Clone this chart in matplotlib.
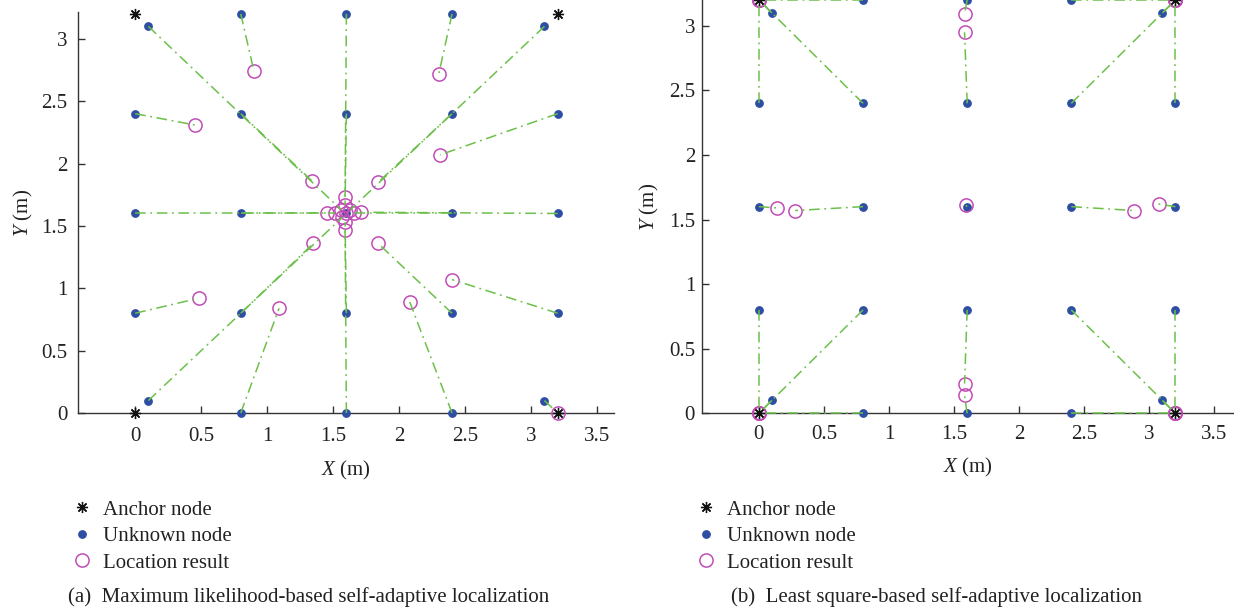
import numpy as np
import matplotlib
matplotlib.use("Agg")
import matplotlib.pyplot as plt

plt.rcParams["font.family"] = ["Liberation Serif", "DejaVu Serif"]
plt.rcParams["mathtext.fontset"] = "custom"
plt.rcParams["mathtext.rm"] = "Liberation Serif"
plt.rcParams["mathtext.it"] = "Liberation Serif:italic"

# anchor nodes (corners of the area)
anchor_x = [0.0, 0.0, 3.2, 3.2]
anchor_y = [0.0, 3.2, 3.2, 0.0]

# unknown nodes (true positions)
unknown_x = [0.8, 1.6, 2.4, 0.1, 3.1,
             0.0, 0.8, 1.6, 2.4, 3.2,
             0.0, 0.8, 1.6, 2.4, 3.2,
             0.0, 0.8, 1.6, 2.4, 3.2,
             0.1, 0.8, 1.6, 2.4, 3.1]
unknown_y = [3.2, 3.2, 3.2, 3.1, 3.1,
             2.4, 2.4, 2.4, 2.4, 2.4,
             1.6, 1.6, 1.6, 1.6, 1.6,
             0.8, 0.8, 0.8, 0.8, 0.8,
             0.1, 0.0, 0.0, 0.0, 0.1]

# (a) maximum likelihood-based location results
ml_result_x = [0.90, 1.59, 2.30, 1.56, 1.63,
               0.45, 1.34, 1.59, 1.84, 2.31,
               1.45, 1.51, 1.60, 1.66, 1.71,
               0.48, 1.35, 1.59, 1.84, 2.40,
               1.57, 1.09, 1.59, 2.08, 3.20]
ml_result_y = [2.74, 1.73, 2.72, 1.63, 1.63,
               2.31, 1.86, 1.67, 1.85, 2.07,
               1.60, 1.60, 1.60, 1.60, 1.61,
               0.92, 1.36, 1.53, 1.36, 1.07,
               1.57, 0.84, 1.47, 0.89, 0.00]

# (b) least square-based location results
ls_result_x = [0.00, 1.58, 3.20, 0.00, 3.20,
               0.00, 0.00, 1.58, 3.20, 3.20,
               0.14, 0.28, 1.59, 2.88, 3.07,
               0.00, 0.00, 1.58, 3.20, 3.20,
               0.00, 0.00, 1.58, 3.20, 3.20]
ls_result_y = [3.20, 3.09, 3.20, 3.20, 3.20,
               3.20, 3.20, 2.95, 3.20, 3.20,
               1.59, 1.57, 1.61, 1.57, 1.62,
               0.00, 0.00, 0.23, 0.00, 0.00,
               0.00, 0.00, 0.14, 0.00, 0.00]

x_ticks = [0, 0.5, 1, 1.5, 2, 2.5, 3, 3.5]
x_tick_labels = ["0", "0.5", "1", "1.5", "2", "2.5", "3", "3.5"]
y_ticks = [0, 0.5, 1, 1.5, 2, 2.5, 3]
y_tick_labels = ["0", "0.5", "1", "1.5", "2", "2.5", "3"]

legend_labels = ["Anchor node", "Unknown node", "Location result"]
captions = ["(a)  Maximum likelihood-based self-adaptive localization",
            "(b)  Least square-based self-adaptive localization"]

line_color = "#6cc04a"
unknown_color = "#2d4ea3"
result_color = "#c04db5"
text_color = "#222222"
asterisk = (8, 2, 0)
font_size = 15


def draw_panel(ax, result_x, result_y, x_limits, y_limits, y_pad, x_pad, x_labelpad, y_labelpad):
    ax.plot(np.vstack([unknown_x, result_x]), np.vstack([unknown_y, result_y]),
            color=line_color, linewidth=1.1, linestyle=(0, (7, 3, 1.2, 3)),
            zorder=4, clip_on=False)
    unknown_handle, = ax.plot(unknown_x, unknown_y, linestyle="none", marker="o",
                              markersize=5.3, color=unknown_color, zorder=3, clip_on=False)
    result_handle, = ax.plot(result_x, result_y, linestyle="none", marker="o",
                             markersize=9.5, markerfacecolor="none",
                             markeredgecolor=result_color, markeredgewidth=1.1,
                             zorder=3.5, clip_on=False)
    anchor_handle, = ax.plot(anchor_x, anchor_y, linestyle="none", marker=asterisk,
                             markersize=8, color="#111111", markeredgewidth=0.95,
                             zorder=5, clip_on=False)

    ax.set_xlim(*x_limits)
    ax.set_ylim(*y_limits)
    ax.set_xticks(x_ticks, x_tick_labels)
    ax.set_yticks(y_ticks, y_tick_labels)
    ax.tick_params(direction="in", length=5, width=1.0, color="#333333",
                   labelsize=font_size, labelcolor=text_color)
    ax.tick_params(axis="y", pad=y_pad)
    ax.tick_params(axis="x", pad=x_pad)
    for side in ["top", "right"]:
        ax.spines[side].set_visible(False)
    for side in ["left", "bottom"]:
        ax.spines[side].set_color("#333333")
        ax.spines[side].set_linewidth(1.0)

    ax.set_xlabel("$X$ (m)", fontsize=font_size, color=text_color, labelpad=x_labelpad)
    ax.set_ylabel("$Y$ (m)", fontsize=font_size, color=text_color, labelpad=y_labelpad)
    return [anchor_handle, unknown_handle, result_handle]


fig = plt.figure(figsize=(12.34, 6.14), dpi=100)

ax_a = fig.add_axes([78 / 1234, 201 / 614, 536 / 1234, 400.7 / 614])
handles_a = draw_panel(ax_a, ml_result_x, ml_result_y, (-0.433, 3.627), (0, 3.213),
                       7.5, 10, 9.5, 5)

ax_b = fig.add_axes([702 / 1234, 200.7 / 614, 532 / 1234, 413.3 / 614])
handles_b = draw_panel(ax_b, ls_result_x, ls_result_y, (-0.437, 3.65), (0, 3.2),
                       5, 8.5, 8.5, 6)

for handles, legend_left, caption_left, caption in [
        (handles_a, 72 / 1234, 68 / 1234, captions[0]),
        (handles_b, 696 / 1234, 731 / 1234, captions[1])]:
    legend = fig.legend(handles, legend_labels, loc="upper left",
                        bbox_to_anchor=(legend_left, 114 / 614), frameon=False,
                        fontsize=font_size, handlelength=1.0, handletextpad=0.5,
                        labelspacing=0.33, borderpad=0, borderaxespad=0,
                        bbox_transform=fig.transFigure)
    for text in legend.get_texts():
        text.set_color(text_color)
    fig.text(caption_left, 17 / 614, caption, fontsize=font_size,
             color=text_color, va="center", ha="left")

fig.savefig("out.png", dpi=100)
